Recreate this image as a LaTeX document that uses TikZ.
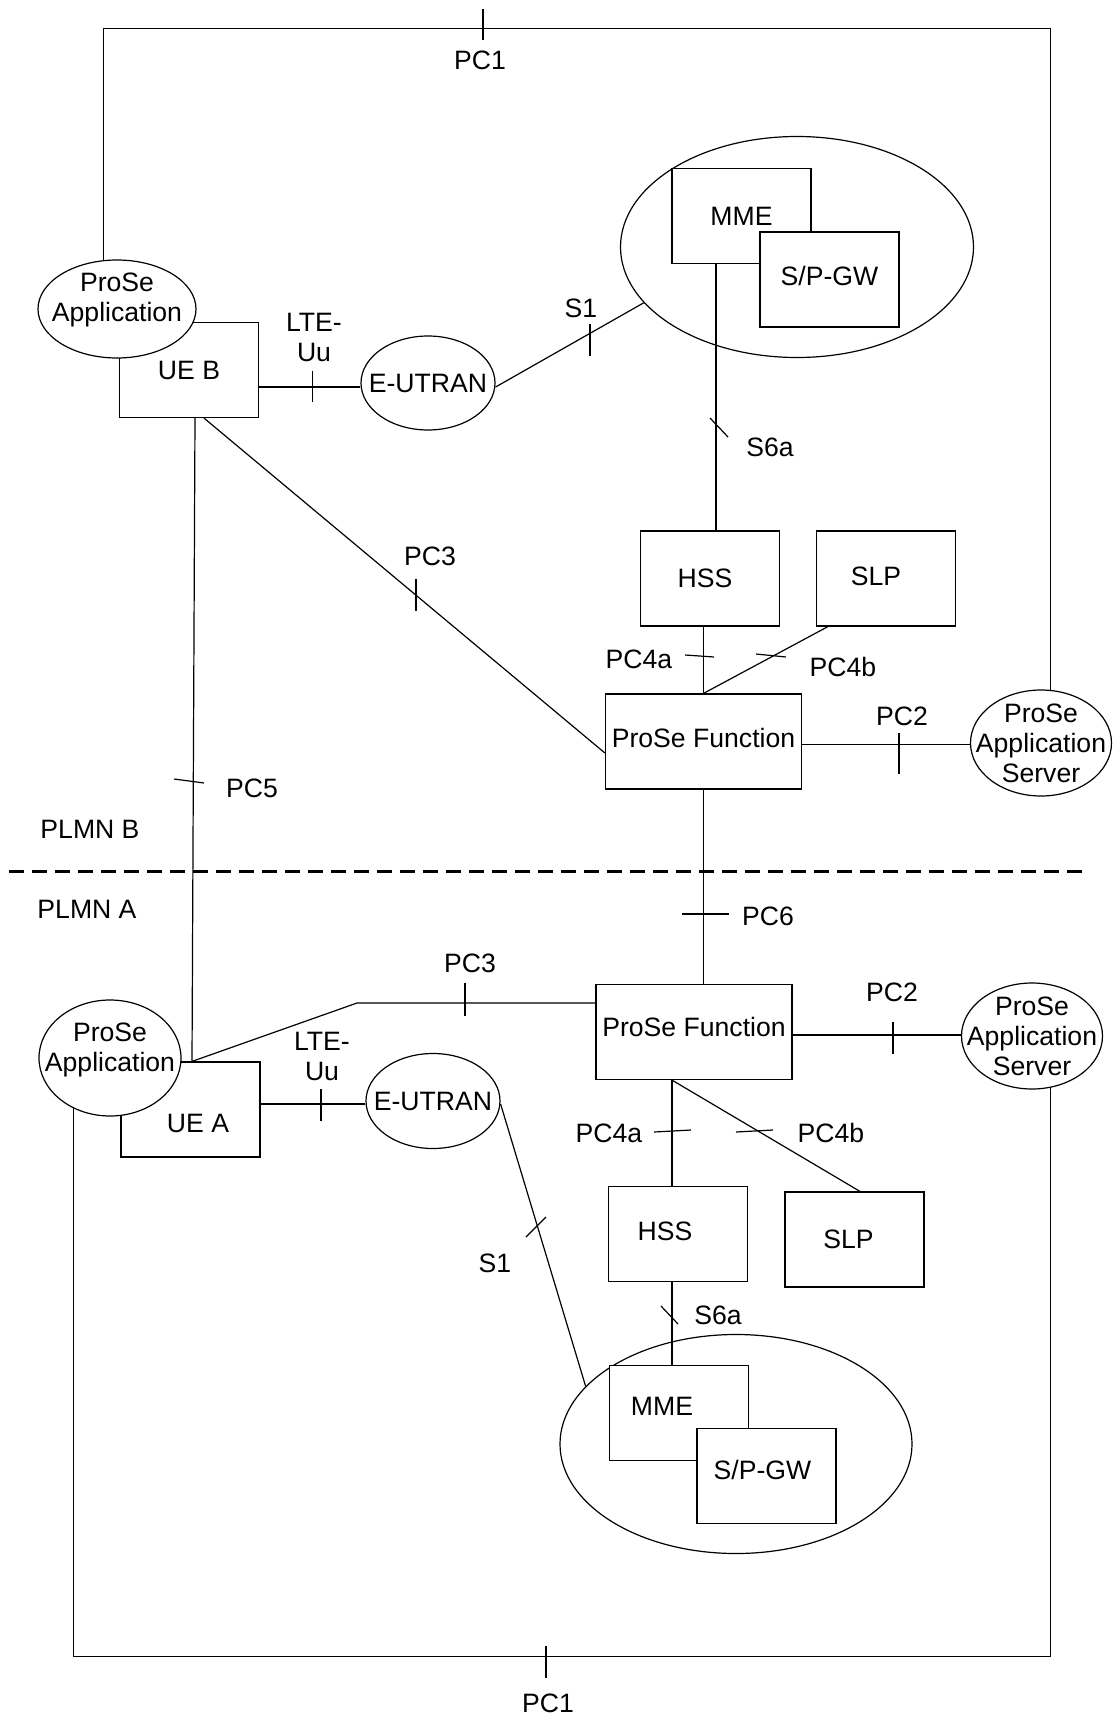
\documentclass[tikz,border=0pt]{standalone}
\usepackage{fontspec}
\setmainfont{Liberation Sans}
\usetikzlibrary{shapes.geometric, backgrounds}

\begin{document}
\begin{tikzpicture}[
    x=0.5pt, y=-0.5pt, line width=0.6pt,
    every node/.style={font=\fontsize{13.3}{15}\selectfont},
    every label/.style={align=center, inner sep=0pt},
    box style/.style={draw, fill=white, rectangle, inner sep=0pt, minimum width=69.5pt, minimum height=47.5pt},
    wide box/.style={box style, minimum width=98pt},
    oval style/.style={draw, fill=white, ellipse, inner sep=0pt},
    iface style/.style={align=center, inner sep=0pt},
    plmn line/.style={line width=1.5pt, dash pattern=on 7.5pt off 4pt}
  ]
  \useasboundingbox (0,0) rectangle (1115,1718);

  % PLMN B
  \node[box style, label=center:UE B] (ueb) at (189,370) {};
  \node[oval style, minimum width=79pt, minimum height=49pt,
        label={[yshift=4.5pt]center:ProSe\\Application}] (appb) at (117,309) {};
  \node[oval style, minimum width=67pt, minimum height=47pt, label=center:E-UTRAN] (eutranb) at (428,383) {};
  \node[oval style, minimum width=176.5pt, minimum height=110.5pt] (coreb) at (797,247) {};
  \node[box style, label=center:MME] (mmeb) at (741.5,216) {};
  \node[box style, label={[yshift=1.75pt]center:S/P-GW}] (gwb) at (829.5,279.5) {};
  \node[box style, label={[xshift=-2.5pt]center:HSS}] (hssb) at (710,578.5) {};
  \node[box style, label={[xshift=-5pt, yshift=1pt]center:SLP}] (slpb) at (886,578.5) {};
  \node[wide box, label={[yshift=2pt]center:ProSe Function}] (pfb) at (703.5,741.5) {};
  \node[oval style, minimum width=70.5pt, minimum height=53pt,
        label=center:ProSe\\Application\\Server] (pasb) at (1041,743) {};

  % PLMN A
  \node[box style, label={[xshift=3.75pt, yshift=-6.75pt]center:UE A}] (uea) at (190.5,1109.5) {};
  \node[oval style, minimum width=71pt, minimum height=58pt,
        label={[yshift=4pt]center:ProSe\\Application}] (appa) at (110,1058) {};
  \node[oval style, minimum width=67pt, minimum height=47.5pt, label=center:E-UTRAN] (eutrana) at (433,1101) {};
  \node[wide box, label={[yshift=2.5pt]center:ProSe Function}] (pfa) at (694,1032) {};
  \node[oval style, minimum width=70.5pt, minimum height=53pt,
        label=center:ProSe\\Application\\Server] (pasa) at (1032,1036) {};
  \node[box style, label={[xshift=-6.5pt, yshift=1.5pt]center:HSS}] (hssa) at (678,1234) {};
  \node[box style, label={[xshift=-3pt]center:SLP}] (slpa) at (854.5,1239.5) {};
  \node[oval style, minimum width=176pt, minimum height=109.5pt] (corea) at (736,1444) {};
  \node[box style, label={[xshift=-8.5pt, yshift=3.5pt]center:MME}] (mmea) at (679,1413) {};
  \node[box style, label={[xshift=-2pt, yshift=3pt]center:S/P-GW}] (gwa) at (766.5,1476) {};

  % PC1 loops
  \coordinate (tl) at (103,28);
  \coordinate (tr) at (1050,28);
  \coordinate (bl) at (73,1656);
  \coordinate (br) at (1050,1656);
  \begin{scope}[on background layer]
    \draw (pasb.center -| tr) -- (tr) -- (tl) -- (appb.center -| tl);
    \draw (appa.center -| bl) -- (bl) -- (br) -- (pasa.center -| br);
  \end{scope}

  % Connectors, PLMN B
  \draw ([yshift=-8.5pt]ueb.east) -- ([yshift=-2pt]eutranb.west);
  \draw ([yshift=-2pt]eutranb.east) -- (coreb.200);
  \draw ([xshift=3pt]hssb.north) -- ([xshift=3pt]hssb.north |- mmeb.south);
  \draw (pfb.north |- hssb.south) -- (pfb.north);
  \draw ([xshift=6pt]slpb.south west) -- (pfb.north);
  \draw ([xshift=7.5pt]ueb.south) -- ([yshift=-5.75pt]pfb.west);
  \draw ([yshift=-1.5pt]pfb.east) -- ([yshift=-1.5pt]pfb.east -| pasb.west);
  \draw ([xshift=3pt]ueb.south) -- ([xshift=0.75pt]uea.north);
  \draw (pfb.south) -- (pfb.south |- pfa.north);

  % Connectors, PLMN A
  \coordinate (bend) at (357,1003);
  \draw ([xshift=0.75pt]uea.north) -- (bend) -- (bend -| pfa.west);
  \draw ([yshift=2.75pt]uea.east) -- ([yshift=-1.5pt]eutrana.west);
  \draw ([yshift=-1.5pt]eutrana.east) -- (corea.159);
  \draw ([yshift=-1.5pt]pfa.east) -- ([yshift=-1.5pt]pfa.east -| pasa.west);
  \draw ([xshift=-3pt]hssa.north) -- ([xshift=-3pt]hssa.north |- pfa.south);
  \draw ([xshift=-3pt]hssa.north |- pfa.south) -- ([xshift=2.75pt]slpa.north);
  \draw ([xshift=-3pt]hssa.south) -- ([xshift=-3pt]hssa.south |- mmea.north);

  % PLMN border
  \draw[plmn line] (9,871) -- (1083,871);

  % Reference point ticks
  \draw (483,9) -- (483,40);
  \draw (312.5,371) -- (312.5,402);
  \draw (590,324) -- (590,356);
  \draw (710,418) -- (728,437);
  \draw (416,579) -- (416,611);
  \draw (685,655) -- (714,657);
  \draw (756,654) -- (786,657);
  \draw (899,733) -- (899,774);
  \draw (174,779) -- (204,783);
  \draw (682,914) -- (729,914);
  \draw (465,983) -- (465,1016);
  \draw (321,1089) -- (321,1121);
  \draw (893,1022) -- (893,1054);
  \draw (654,1132) -- (691,1130);
  \draw (736,1132) -- (773,1130);
  \draw (526,1237) -- (546,1217);
  \draw (661,1306) -- (678,1324);
  \draw (546,1646) -- (546,1678);

  % Reference point labels
  \node[iface style] (pc1b) at (480,60) {PC1};
  \node[iface style] (uub) at (314,337) {LTE-\\Uu};
  \node[iface style] (s1b) at (581,308) {S1};
  \node[iface style] (s6ab) at (770,447) {S6a};
  \node[iface style] (pc3b) at (430,556) {PC3};
  \node[iface style] (pc4ab) at (639,659) {PC4a};
  \node[iface style] (pc4bb) at (843,667) {PC4b};
  \node[iface style] (pc2b) at (902,716) {PC2};
  \node[iface style] (pc5) at (252,788) {PC5};
  \node[iface style] (plmnb) at (90,829) {PLMN B};
  \node[iface style] (plmna) at (87,909) {PLMN A};
  \node[iface style] (pc6) at (768,916) {PC6};
  \node[iface style] (pc3a) at (470,963) {PC3};
  \node[iface style] (uua) at (322,1056) {LTE-\\Uu};
  \node[iface style] (pc2a) at (892,992) {PC2};
  \node[iface style] (pc4aa) at (609,1133) {PC4a};
  \node[iface style] (pc4ba) at (831,1133) {PC4b};
  \node[iface style] (s1a) at (495,1263) {S1};
  \node[iface style] (s6aa) at (718,1315) {S6a};
  \node[iface style] (pc1a) at (548,1703) {PC1};

\end{tikzpicture}
\end{document}
